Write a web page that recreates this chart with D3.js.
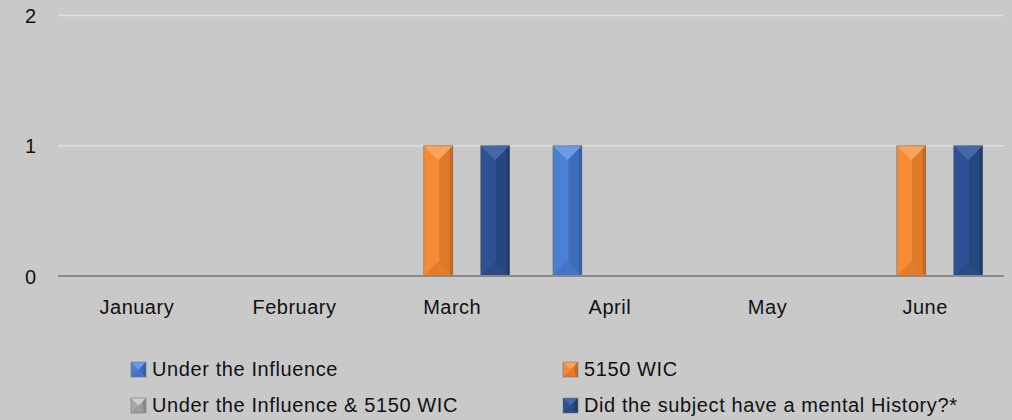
<!DOCTYPE html>
<html>
<head>
<meta charset="utf-8">
<script src="https://cdn.jsdelivr.net/npm/d3@7"></script>
<style>
  html, body { margin: 0; padding: 0; background: #c9c9c9; }
  svg { display: block; }
  text { font-family: "Liberation Sans", Arial, sans-serif; fill: #111; }
</style>
</head>
<body>
<svg id="chart" width="1012" height="420"></svg>
<script>
// ---- data ----
const months = ["January", "February", "March", "April", "May", "June"];
const seriesNames = [
  "Under the Influence",
  "5150 WIC",
  "Under the Influence & 5150 WIC",
  "Did the subject have a mental History?*"
];
const underInfluence = [0, 0, 0, 1, 0, 0];
const wic5150 = [0, 0, 1, 0, 0, 1];
const influenceAndWic = [0, 0, 0, 0, 0, 0];
const mentalHistory = [0, 0, 1, 0, 0, 1];
const yTicks = [0, 1, 2];

const seriesValues = [underInfluence, wic5150, influenceAndWic, mentalHistory];

// ---- styles ----
const palette = [
  { base: "#4a7fd5", right: "#3d6cbd", edge: "#345fa8", top: "#6c9ae4", bottom: "#4374c4" },
  { base: "#f68a35", right: "#e07a2b", edge: "#c9691f", top: "#f9a45c", bottom: "#e37d2e" },
  { base: "#a9a9a9", right: "#9a9a9a", edge: "#8a8a8a", top: "#cfcfcf", bottom: "#9d9d9d" },
  { base: "#2d5192", right: "#26467f", edge: "#1f3b6c", top: "#4467a5", bottom: "#2a4a84" }
];

const svg = d3.select("#chart");
const W = 1012, H = 420;
const plot = { left: 58, right: 1004, top: 15.5, bottom: 276 };

const x0 = d3.scaleBand().domain(months).range([plot.left, plot.right]).padding(0);
const x1 = d3.scaleBand().domain(d3.range(seriesNames.length))
  .range([0, x0.bandwidth()]).paddingInner(0).paddingOuter(0.77);
const y = d3.scaleLinear().domain([0, 2]).range([plot.bottom, plot.top]);

svg.append("rect").attr("width", W).attr("height", H).attr("fill", "#c9c9c9");

// gridlines
svg.append("g").selectAll("line").data(yTicks.filter(d => d !== 0)).join("line")
  .attr("x1", plot.left).attr("x2", plot.right)
  .attr("y1", d => y(d)).attr("y2", d => y(d))
  .attr("stroke", "#dedede").attr("stroke-width", 1.5);

// y axis labels
const yAxis = d3.axisLeft(y).tickValues(yTicks).tickSize(0).tickPadding(0).tickFormat(d3.format("d"));
const yg = svg.append("g").attr("transform", "translate(36,0)").call(yAxis);
yg.select(".domain").remove();
yg.selectAll("text").attr("font-size", 20).attr("fill", "#111")
  .attr("font-family", "Liberation Sans, Arial, sans-serif").attr("dy", "0.35em");

// bevel bar drawer
function bevel(g, x, yTop, w, h, c) {
  const cx = x + w / 2;
  const b = Math.min(w / 2, h / 2);
  g.append("rect").attr("x", x).attr("y", yTop).attr("width", w).attr("height", h).attr("fill", c.base);
  g.append("rect").attr("x", cx + 1).attr("y", yTop).attr("width", w / 2 - 1).attr("height", h).attr("fill", c.right);
  g.append("rect").attr("x", x + w - 3).attr("y", yTop).attr("width", 3).attr("height", h).attr("fill", c.edge);
  g.append("path").attr("d", `M${x},${yTop}L${x + w},${yTop}L${cx},${yTop + b}Z`).attr("fill", c.top);
  g.append("path").attr("d", `M${x},${yTop + h}L${x + w},${yTop + h}L${cx},${yTop + h - b}Z`).attr("fill", c.bottom);
  g.append("rect").attr("x", x).attr("y", yTop).attr("width", w).attr("height", h)
    .attr("fill", "none").attr("stroke", "#6f6f6f").attr("stroke-opacity", 0.55).attr("stroke-width", 1);
}

// bars
const bars = [];
seriesValues.forEach((vals, si) => {
  vals.forEach((v, mi) => { if (v > 0) bars.push({ si, month: months[mi], v }); });
});
const barG = svg.append("g");
bars.forEach(d => {
  const x = x0(d.month) + x1(d.si);
  const yt = y(d.v);
  bevel(barG.append("g"), x, yt, x1.bandwidth() + 0.5, y(0) - yt, palette[d.si]);
});

// x baseline
svg.append("line").attr("x1", plot.left).attr("x2", plot.right)
  .attr("y1", y(0)).attr("y2", y(0)).attr("stroke", "#8a8a8a").attr("stroke-width", 2);

// x axis labels
const xAxis = d3.axisBottom(x0).tickSize(0).tickPadding(0);
const xg = svg.append("g").attr("transform", `translate(0,${y(0)})`).call(xAxis);
xg.select(".domain").remove();
xg.selectAll("text").attr("font-size", 20).attr("fill", "#111").attr("y", 38).attr("dy", 0)
  .attr("letter-spacing", "0.5px")
  .attr("font-family", "Liberation Sans, Arial, sans-serif");

// legend
const legendPos = [
  { x: 131, y: 362 }, { x: 563, y: 362 },
  { x: 131, y: 398 }, { x: 563, y: 398 }
];
const lg = svg.append("g");
seriesNames.forEach((name, i) => {
  const p = legendPos[i];
  const g = lg.append("g");
  bevel(g, p.x, p.y, 15, 15, palette[i]);
  g.append("text").attr("x", p.x + 21).attr("y", p.y + 14)
    .attr("font-size", 20).attr("letter-spacing", "0.6px").text(name);
});
</script>
</body>
</html>
